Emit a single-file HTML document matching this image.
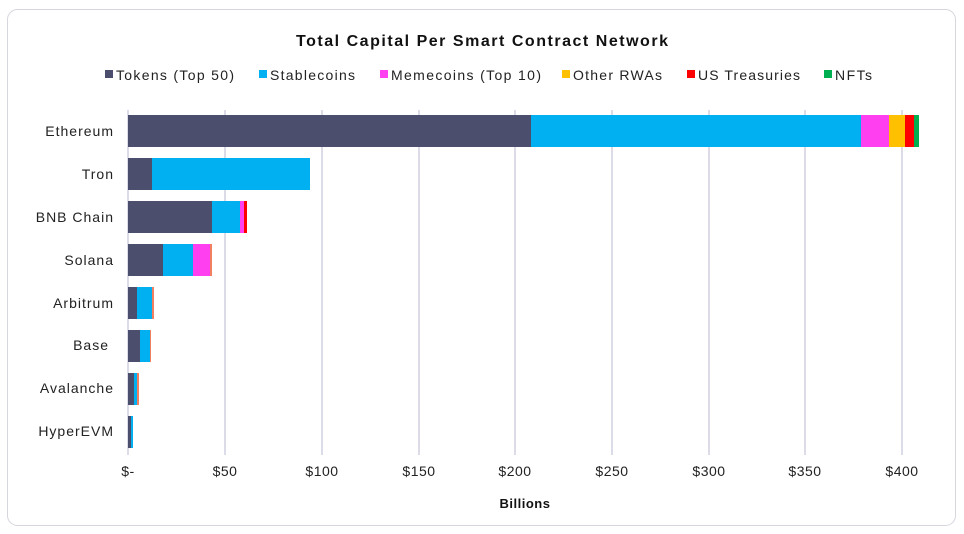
<!DOCTYPE html><html><head><style>body{margin:0;background:#fff}svg{display:block;font-family:"Liberation Sans",sans-serif}</style></head><body>
<svg width="964" height="534" xmlns="http://www.w3.org/2000/svg">
<rect x="7.5" y="9.5" width="948" height="516" rx="10" fill="#fff" stroke="#d6d6de"/>
<text x="296" y="46" textLength="372" lengthAdjust="spacing" font-size="16" font-weight="bold" fill="#111">Total Capital Per Smart Contract Network</text>
<g font-size="14" fill="#222">
<rect x="105" y="70" width="8" height="8" fill="#4b4e6d"/><text x="116" y="80" textLength="118">Tokens (Top 50)</text>
<rect x="259" y="70" width="8" height="8" fill="#00b0f0"/><text x="270" y="80" textLength="85">Stablecoins</text>
<rect x="380" y="70" width="8" height="8" fill="#ff3ff0"/><text x="391" y="80" textLength="150">Memecoins (Top 10)</text>
<rect x="562" y="70" width="8" height="8" fill="#ffc000"/><text x="573" y="80" textLength="89">Other RWAs</text>
<rect x="687" y="70" width="8" height="8" fill="#ff0000"/><text x="698" y="80" textLength="102">US Treasuries</text>
<rect x="824" y="70" width="8" height="8" fill="#00b050"/><text x="835" y="80" textLength="37">NFTs</text>
</g>
<g stroke="#d0d0e0" stroke-width="1.5">
<line x1="128" y1="110" x2="128" y2="455"/><line x1="225" y1="110" x2="225" y2="455"/><line x1="322" y1="110" x2="322" y2="455"/><line x1="419" y1="110" x2="419" y2="455"/><line x1="515" y1="110" x2="515" y2="455"/><line x1="612" y1="110" x2="612" y2="455"/><line x1="709" y1="110" x2="709" y2="455"/><line x1="805" y1="110" x2="805" y2="455"/><line x1="902" y1="110" x2="902" y2="455"/>
</g>
<g>
<rect x="128" y="115" width="403" height="32" fill="#4b4e6d"/><rect x="531" y="115" width="330" height="32" fill="#00b0f0"/><rect x="861" y="115" width="28" height="32" fill="#ff3ff0"/><rect x="889" y="115" width="16" height="32" fill="#ffc000"/><rect x="905" y="115" width="9" height="32" fill="#ff0000"/><rect x="914" y="115" width="5" height="32" fill="#00b050"/>
<rect x="128" y="158" width="24" height="32" fill="#4b4e6d"/><rect x="152" y="158" width="158" height="32" fill="#00b0f0"/>
<rect x="128" y="201" width="84" height="32" fill="#4b4e6d"/><rect x="212" y="201" width="28" height="32" fill="#00b0f0"/><rect x="240" y="201" width="4" height="32" fill="#ff3ff0"/><rect x="244" y="201" width="3" height="32" fill="#ff0000"/>
<rect x="128" y="244" width="35" height="32" fill="#4b4e6d"/><rect x="163" y="244" width="30" height="32" fill="#00b0f0"/><rect x="193" y="244" width="17" height="32" fill="#ff3ff0"/><rect x="210" y="244" width="2" height="32" fill="#f08060"/>
<rect x="128" y="287" width="9" height="32" fill="#4b4e6d"/><rect x="137" y="287" width="15" height="32" fill="#00b0f0"/><rect x="152" y="287" width="2" height="32" fill="#f08060"/>
<rect x="128" y="330" width="12" height="32" fill="#4b4e6d"/><rect x="140" y="330" width="10" height="32" fill="#00b0f0"/><rect x="150" y="330" width="1" height="32" fill="#f08060"/>
<rect x="128" y="373" width="6" height="32" fill="#4b4e6d"/><rect x="134" y="373" width="3" height="32" fill="#00b0f0"/><rect x="137" y="373" width="2" height="32" fill="#f08060"/>
<rect x="128" y="416" width="3" height="32" fill="#4b4e6d"/><rect x="131" y="416" width="2" height="32" fill="#00b0f0"/>
</g>
<g font-size="14" fill="#222" text-anchor="end" letter-spacing="1">
<text x="114" y="136">Ethereum</text><text x="114" y="179">Tron</text><text x="114" y="222">BNB Chain</text><text x="114" y="265">Solana</text><text x="114" y="308">Arbitrum</text><text x="109" y="350">Base</text><text x="114" y="393">Avalanche</text><text x="114" y="436">HyperEVM</text>
</g>
<g font-size="14" fill="#222" text-anchor="middle" letter-spacing="0.5">
<text x="128" y="476">$-</text><text x="225" y="476">$50</text><text x="322" y="476">$100</text><text x="419" y="476">$150</text><text x="515" y="476">$200</text><text x="612" y="476">$250</text><text x="709" y="476">$300</text><text x="805" y="476">$350</text><text x="902" y="476">$400</text>
</g>
<text x="525" y="508" text-anchor="middle" font-size="13" font-weight="bold" fill="#111" letter-spacing="0.5">Billions</text>
</svg></body></html>
